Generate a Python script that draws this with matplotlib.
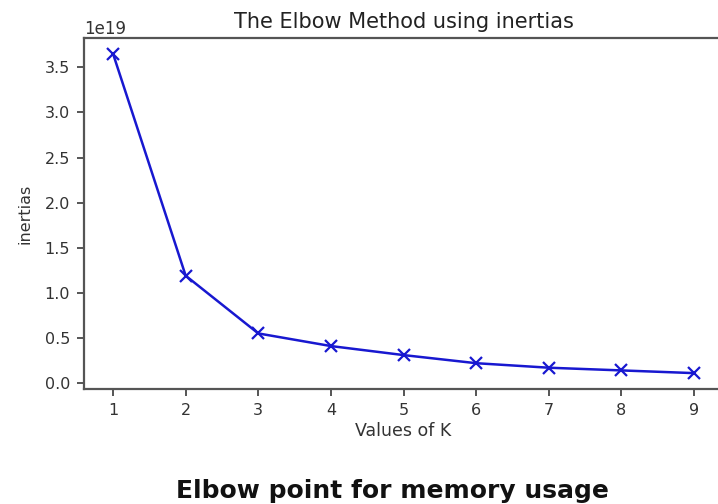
import matplotlib
matplotlib.use("Agg")
from matplotlib import pyplot as plt

plt.rcParams['font.family'] = 'DejaVu Sans'

k_values = [1, 2, 3, 4, 5, 6, 7, 8, 9]
inertias = [3.65e19, 1.19e19, 0.55e19, 0.41e19, 0.31e19, 0.22e19, 0.17e19, 0.14e19, 0.11e19]

fig = plt.figure(figsize=(7.18, 5.04), dpi=100)
ax = fig.add_axes([0.117, 0.228, 0.89, 0.697])

ax.plot(k_values, inertias, 'x-', color='#1818d0', linewidth=1.8, markersize=8, markeredgewidth=1.6)

for side in ax.spines.values():
    side.set_color('#555555')
    side.set_linewidth(1.6)
ax.tick_params(colors='#555555', labelcolor='#333333', labelsize=11.5, width=1.4, length=5, pad=5)
ax.yaxis.get_offset_text().set_fontsize(12)
ax.yaxis.get_offset_text().set_color('#333333')

ax.set_xlabel('Values of K', fontsize=12.5, color='#333333', labelpad=3)
ax.set_ylabel('inertias', fontsize=11.5, color='#333333', labelpad=9)
ax.set_title('The Elbow Method using inertias', fontsize=15, color='#222222', pad=7)

fig.text(0.546, 0.002, 'Elbow point for memory usage', ha='center', va='bottom',
         fontsize=18, fontweight='bold', color='#111111')

fig.savefig('out.png', dpi=100)
